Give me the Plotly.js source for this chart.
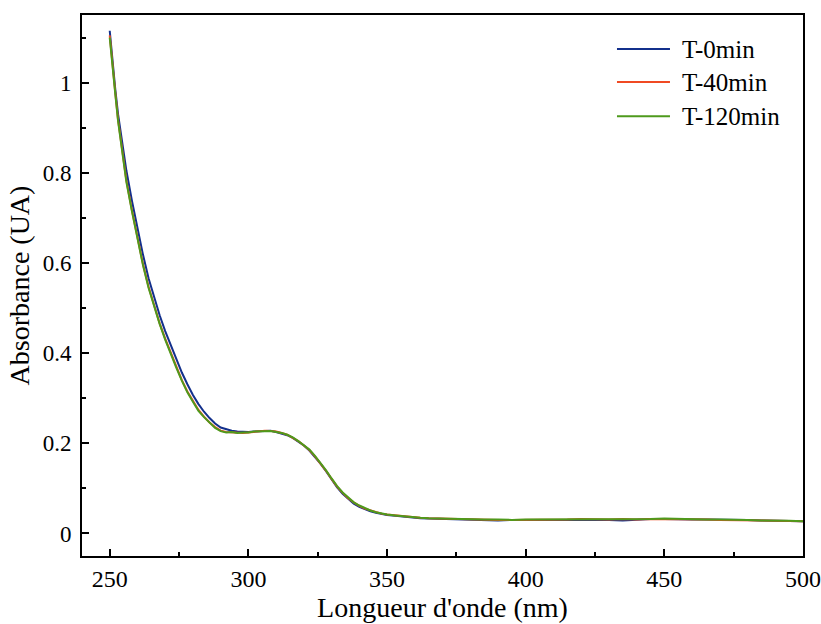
<!DOCTYPE html>
<html>
<head>
<meta charset="utf-8">
<script src="https://cdn.plot.ly/plotly-3.0.1.min.js"></script>
<style>html,body{margin:0;padding:0;background:#fff;}#chart{width:821px;height:624px;}</style>
</head>
<body>
<div id="chart"></div>
<script>
// Wavelength (nm)
const wavelength = [
  250,251,252,253,254,
  256,258,260,262,264,266,268,270,272,274,276,278,280,282,284,286,288,290,292,294,296,298,300,
  302,304,306,308,310,312,314,316,318,320,322,324,326,328,330,332,334,336,338,340,342,344,346,348,350,
  353,356,359,362,365,
  370,375,380,385,390,395,400,405,410,415,420,425,430,435,440,445,450,455,460,465,470,475,480,485,490,495,500
];
const seriesNames = ["T-0min", "T-40min", "T-120min"];
// Absorbance (UA)
const absT0 = [
  1.115,1.045,0.985,0.930,0.885,
  0.805,0.738,0.676,0.618,0.566,0.522,0.484,0.449,0.417,0.387,0.357,0.331,0.307,0.287,0.270,0.256,0.244,0.235,0.231,0.228,0.226,0.225,0.225,
  0.226,0.227,0.227,0.228,0.225,0.222,0.218,0.212,0.204,0.195,0.184,0.170,0.155,0.138,0.119,0.102,0.088,0.076,0.066,0.059,0.054,0.049,0.046,0.043,0.041,
  0.039,0.037,0.036,0.034,0.033,
  0.032,0.031,0.030,0.030,0.029,0.030,0.030,0.030,0.031,0.030,0.031,0.031,0.030,0.029,0.031,0.032,0.032,0.031,0.031,0.031,0.031,0.030,0.030,0.029,0.028,0.027,0.027
];
const absT40 = [
  1.105,1.035,0.978,0.918,0.870,
  0.783,0.717,0.654,0.597,0.547,0.504,0.466,0.432,0.400,0.369,0.340,0.315,0.293,0.274,0.259,0.246,0.236,0.228,0.225,0.224,0.224,0.223,0.224,
  0.225,0.226,0.228,0.227,0.226,0.223,0.219,0.212,0.205,0.195,0.185,0.171,0.156,0.139,0.121,0.104,0.090,0.078,0.069,0.061,0.055,0.051,0.047,0.044,0.042,
  0.040,0.038,0.036,0.035,0.034,
  0.033,0.032,0.031,0.031,0.030,0.030,0.030,0.031,0.030,0.031,0.032,0.031,0.031,0.032,0.031,0.032,0.032,0.032,0.031,0.031,0.030,0.030,0.030,0.029,0.028,0.028,0.027
];
const absT120 = [
  1.100,1.030,0.975,0.915,0.868,
  0.780,0.715,0.651,0.595,0.545,0.502,0.465,0.430,0.398,0.368,0.339,0.313,0.292,0.272,0.258,0.245,0.234,0.227,0.224,0.225,0.223,0.224,0.224,
  0.226,0.226,0.227,0.227,0.225,0.223,0.219,0.213,0.205,0.196,0.186,0.172,0.157,0.140,0.122,0.105,0.091,0.079,0.069,0.062,0.056,0.051,0.047,0.044,0.042,
  0.040,0.038,0.037,0.035,0.034,
  0.033,0.032,0.032,0.031,0.031,0.030,0.031,0.031,0.031,0.031,0.031,0.031,0.032,0.031,0.032,0.032,0.033,0.032,0.032,0.031,0.031,0.031,0.030,0.029,0.029,0.028,0.027
];
const seriesValues = [absT0, absT40, absT120];
const seriesColors = ["#13308c", "#f04a23", "#4e9a1c"];

const traces = seriesValues.map((vals, i) => ({
  type: "scatter",
  mode: "lines",
  name: seriesNames[i],
  x: wavelength,
  y: vals,
  line: {color: seriesColors[i], width: 2}
}));

const FONT = "Liberation Serif";

// Legend drawn as paper-space strokes + labels to match the long legend lines
const legendRows = [0.937, 0.876, 0.813];
const shapes = seriesNames.map((n, i) => ({
  type: "line", xref: "paper", yref: "paper",
  x0: 0.742, x1: 0.8155, y0: legendRows[i], y1: legendRows[i],
  line: {color: seriesColors[i], width: 2}
}));
const annotations = seriesNames.map((n, i) => ({
  xref: "paper", yref: "paper", x: 0.829, y: legendRows[i],
  xanchor: "left", yanchor: "middle", showarrow: false,
  text: n, font: {family: FONT, size: 25, color: "#000"}
}));

const layout = {
  width: 821, height: 624,
  margin: {l: 82, r: 18, t: 15, b: 68},
  paper_bgcolor: "#fff", plot_bgcolor: "#fff",
  font: {family: FONT, color: "#000", size: 23},
  showlegend: false,
  shapes: shapes,
  annotations: annotations,
  xaxis: {
    range: [240, 500],
    tickvals: [250, 300, 350, 400, 450, 500],
    ticks: "inside", ticklen: 7, tickwidth: 2, tickcolor: "#000",
    minor: {dtick: 25, tick0: 250, ticks: "inside", ticklen: 4, tickwidth: 2, tickcolor: "#000"},
    showline: true, linewidth: 2, linecolor: "#000", mirror: true,
    showgrid: false, zeroline: false,
    tickfont: {family: FONT, size: 24},
    title: {text: "Longueur d'onde (nm)", font: {family: FONT, size: 28}, standoff: 6}
  },
  yaxis: {
    range: [-0.05, 1.15],
    tickvals: [0, 0.2, 0.4, 0.6, 0.8, 1],
    ticktext: ["0", "0.2", "0.4", "0.6", "0.8", "1"],
    ticks: "inside", ticklen: 7, tickwidth: 2, tickcolor: "#000",
    ticklabelstandoff: 4,
    minor: {dtick: 0.1, tick0: 0, ticks: "inside", ticklen: 4, tickwidth: 2, tickcolor: "#000"},
    showline: true, linewidth: 2, linecolor: "#000", mirror: true,
    showgrid: false, zeroline: false,
    tickfont: {family: FONT, size: 23},
    title: {text: "Absorbance (UA)", font: {family: FONT, size: 28}, standoff: 5}
  }
};

Plotly.newPlot("chart", traces, layout, {displayModeBar: false, staticPlot: true});
</script>
</body>
</html>
